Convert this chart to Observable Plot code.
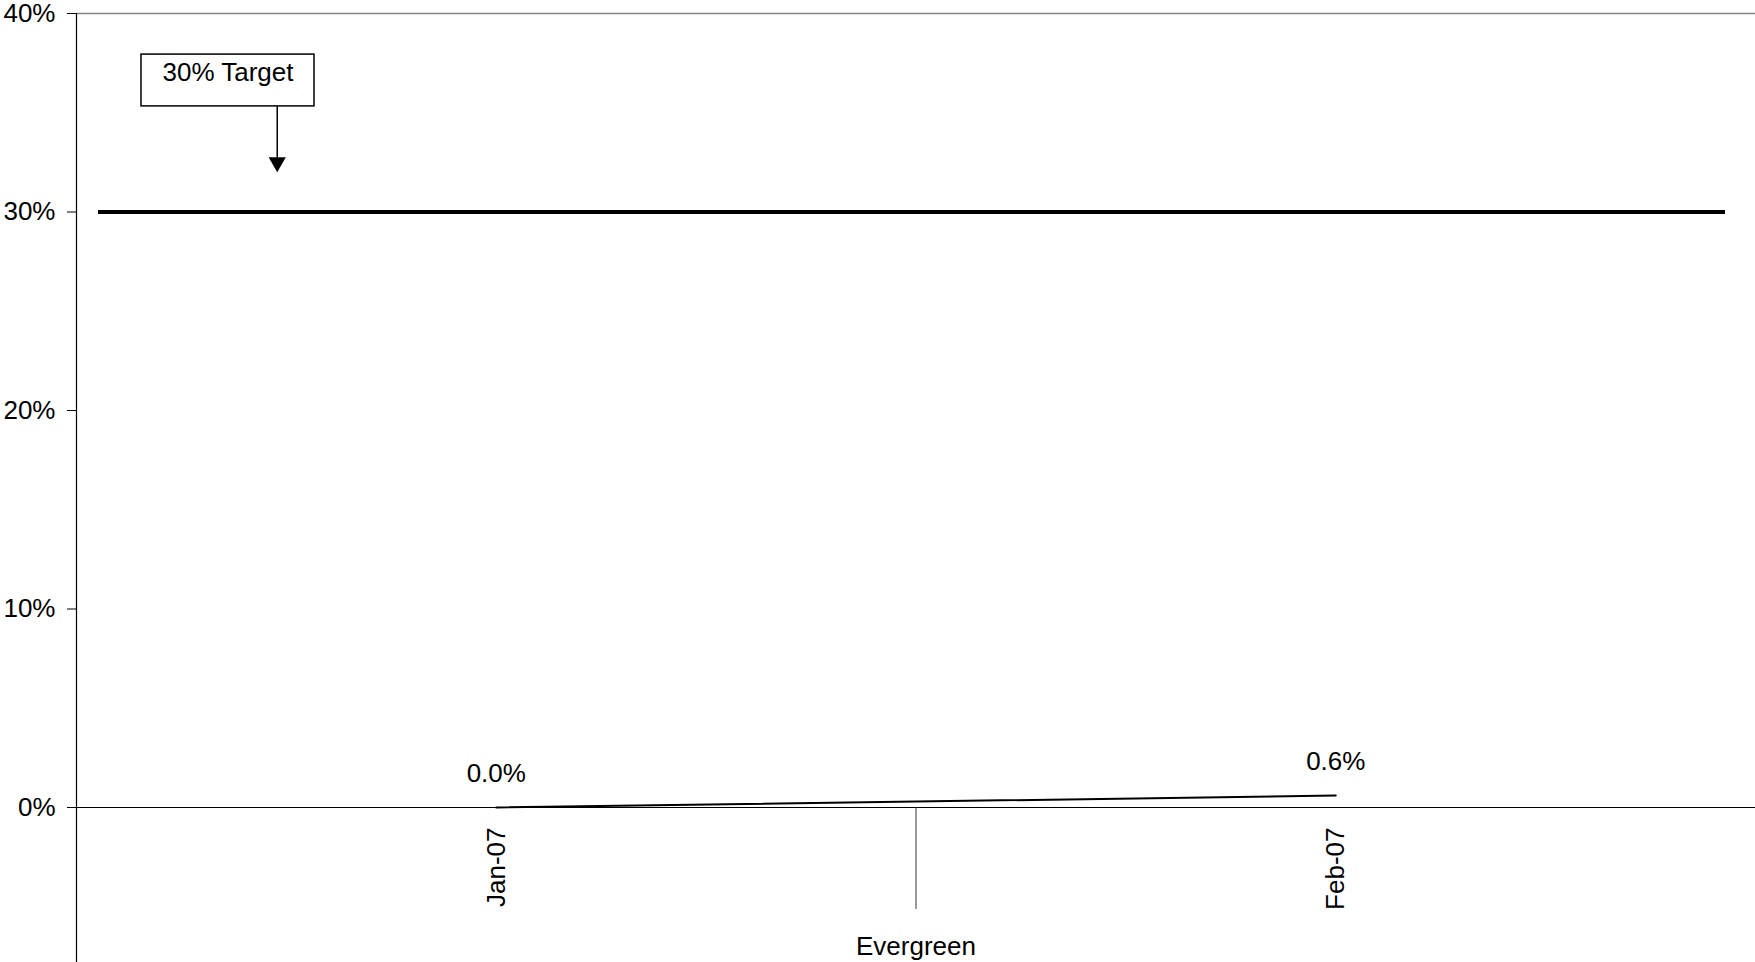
<!DOCTYPE html>
<html>
<head>
<meta charset="utf-8">
<script src="https://cdn.jsdelivr.net/npm/d3@7"></script>
<script src="https://cdn.jsdelivr.net/npm/@observablehq/plot@0.6"></script>
<style>
  html, body { margin: 0; padding: 0; background: #fff; }
  #chart svg { display: block; font-family: "Liberation Sans", Arial, sans-serif; }
</style>
</head>
<body>
<div id="chart"></div>
<script>
// ---- data ----
const categories = ["Jan-07", "Feb-07"];
const values = [0.000, 0.006];
const groupLabel = "Evergreen";
const targetValue = 0.30;
const targetLabel = "30% Target";
const yTicks = [0, 0.1, 0.2, 0.3, 0.4];

// annotation box / arrow placement (data units)
const annoBox = {x1: -0.4226, x2: -0.2165, yTop: 0.3793, yBottom: 0.3532};
const annoArrow = {x: -0.2609, yTip: 0.3200};

// ---- derived tables ----
const idx = categories.map((_, i) => i);
const series = idx.map(i => ({i, cat: categories[i], value: values[i]}));
const dividers = idx.slice(1).map(i => i - 0.5);
const groupCenter = d3.mean(idx);

const FS = 26;
const chart = Plot.plot({
  width: 1755,
  height: 962,
  marginLeft: 76,
  marginRight: 0,
  marginTop: 13,
  marginBottom: 155,
  style: {background: "#fff", color: "#000", fontFamily: '"Liberation Sans", Arial, sans-serif'},
  x: {type: "linear", domain: [-0.5, categories.length - 0.5]},
  y: {domain: [0, 0.4]},
  marks: [
    // top border of plot area
    Plot.ruleY([0.4], {stroke: "#858585", strokeWidth: 1.5}),
    // target line
    Plot.ruleY([targetValue], {stroke: "#000", strokeWidth: 4, insetLeft: 22, insetRight: 30}),
    // category axis line
    Plot.ruleY([0], {stroke: "#000", strokeWidth: 1.2}),
    // value axis line (runs down through the category label area)
    Plot.ruleX([-0.5], {stroke: "#000", strokeWidth: 1.2, insetBottom: -155}),
    // divider tick between categories
    Plot.ruleX(dividers, {x: d => d, y1: 0, y2: 0, stroke: "#333", strokeWidth: 1, insetBottom: -102}),
    // y axis
    Plot.axisY({ticks: yTicks, tickFormat: d3.format(".0%"), tickSize: 9, tickPadding: 12, fontSize: FS, label: null}),
    // x axis tick labels (rotated)
    Plot.axisX({ticks: idx, tickFormat: i => categories[i], tickSize: 0, tickPadding: 20, tickRotate: -90,
                textAnchor: "end", lineAnchor: "middle", fontSize: FS, label: null}),
    // group label
    Plot.text([groupLabel], {x: () => groupCenter, y: () => 0, text: d => d, dy: 147, lineAnchor: "bottom", fontSize: FS, fill: "#000"}),
    // data line
    Plot.line(series, {x: "i", y: "value", stroke: "#000", strokeWidth: 2}),
    // data labels
    Plot.text(series, {x: "i", y: "value", text: d => d3.format(".1%")(d.value), dy: -26, lineAnchor: "bottom", fontSize: FS, fill: "#000"}),
    // target annotation box
    Plot.rect([annoBox], {x1: "x1", x2: "x2", y1: "yBottom", y2: "yTop", fill: "#fff", stroke: "#000", strokeWidth: 1.5}),
    Plot.text([annoBox], {x: d => (d.x1 + d.x2) / 2, y: "yTop", text: () => targetLabel, dy: 26, lineAnchor: "bottom", fontSize: FS, fill: "#000"}),
    // arrow shaft + head
    Plot.ruleX([annoArrow], {x: "x", y1: () => annoBox.yBottom, y2: "yTip", stroke: "#000", strokeWidth: 1.5, insetBottom: 12}),
    Plot.dot([annoArrow], {x: "x", y: "yTip", symbol: "triangle2", r: 8.2, rotate: 180, dy: -10, fill: "#000", stroke: "none"})
  ]
});
document.getElementById("chart").append(chart);
</script>
</body>
</html>
